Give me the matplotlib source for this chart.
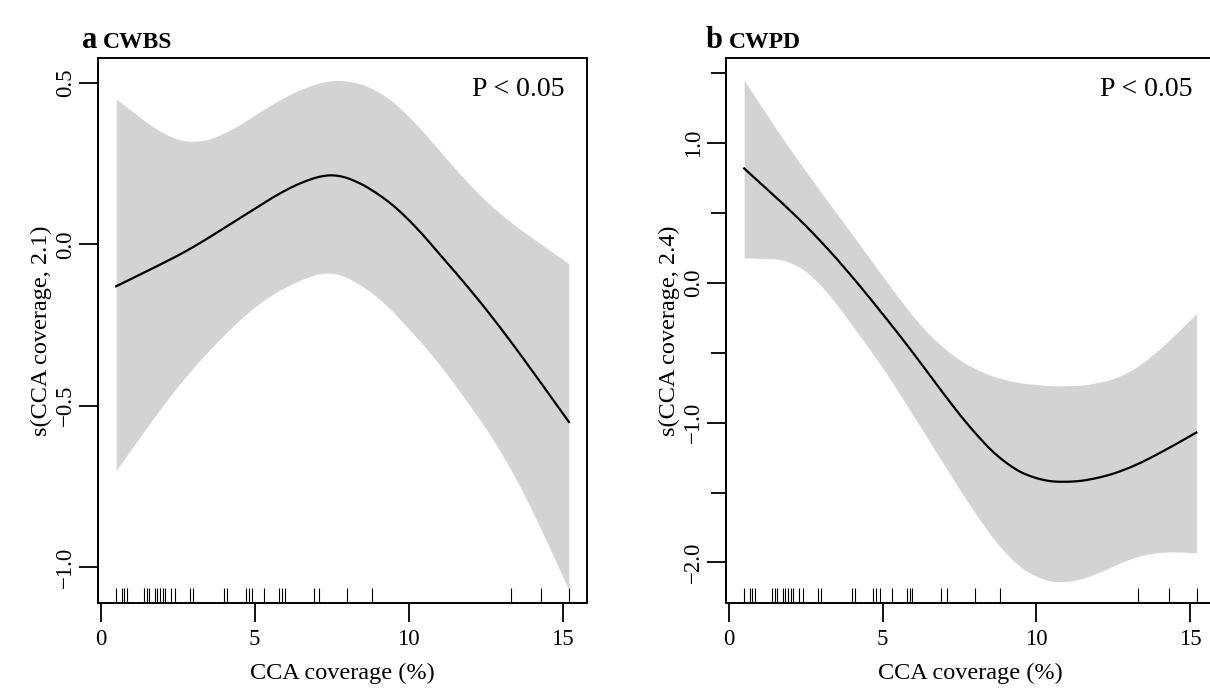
import matplotlib
matplotlib.use("Agg")
import matplotlib.pyplot as plt
import numpy as np
from matplotlib.ticker import MultipleLocator

plt.rcParams["font.family"] = ["Liberation Serif", "DejaVu Serif"]

# rug positions (CCA coverage of the sampled sites)
rug_x = [0.50, 0.68, 0.77, 0.85, 1.42, 1.50, 1.57, 1.77, 1.84, 1.92, 2.01,
         2.09, 2.28, 2.40, 2.91, 3.01, 4.01, 4.11, 4.70, 4.80, 4.92, 5.31,
         5.80, 5.89, 5.97, 6.91, 7.10, 8.01, 8.82, 13.31, 14.31, 15.21]

# smooth terms
x_a = [0.5, 2, 3, 4, 5, 6, 7, 7.5, 8, 9, 10, 11, 12, 13, 14, 15.2]
fit_a = [-0.13, -0.06, -0.01, 0.05, 0.11, 0.17, 0.21, 0.22, 0.21, 0.16, 0.08,
         -0.03, -0.14, -0.26, -0.39, -0.55]
upper_a = [0.45, 0.34, 0.31, 0.34, 0.40, 0.46, 0.50, 0.51, 0.51, 0.48, 0.40,
           0.29, 0.18, 0.09, 0.02, -0.06]
lower_a = [-0.70, -0.50, -0.38, -0.28, -0.19, -0.13, -0.09, -0.08, -0.10,
           -0.16, -0.26, -0.37, -0.50, -0.64, -0.82, -1.07]

x_b = [0.5, 2, 3, 4, 5, 6, 7, 8, 9, 10, 11, 12, 13, 14, 15.2]
fit_b = [0.82, 0.52, 0.30, 0.05, -0.22, -0.50, -0.80, -1.08, -1.30, -1.41,
         -1.43, -1.40, -1.33, -1.22, -1.07]
upper_b = [1.45, 0.95, 0.65, 0.35, 0.05, -0.25, -0.48, -0.62, -0.70, -0.73,
           -0.74, -0.72, -0.65, -0.48, -0.22]
lower_b = [0.18, 0.17, 0.00, -0.30, -0.60, -0.95, -1.30, -1.65, -1.95, -2.12,
           -2.15, -2.08, -1.97, -1.92, -1.93]

W, H = 1210, 695
fig = plt.figure(figsize=(W / 100, H / 100), dpi=100)


def smooth(x, y):
    # interpolate the read points, then soften the corners a little
    xs = np.linspace(x[0], x[-1], 300)
    ys = np.interp(xs, x, y)
    k = np.ones(25) / 25
    pad = np.pad(ys, 12, mode="reflect", reflect_type="odd")
    return xs, np.convolve(pad, k, mode="valid")


def panel(rect, x, fit, upper, lower, ylim, ylabel, minor):
    ax = fig.add_axes(rect)
    xs, lo = smooth(x, lower)
    _, hi = smooth(x, upper)
    _, fs = smooth(x, fit)
    ax.fill_between(xs, lo, hi, color="#d3d3d3", linewidth=0)
    ax.plot(xs, fs, color="black", lw=1.6)
    ax.vlines(rug_x, ylim[0], ylim[0] + (ylim[1] - ylim[0]) * 0.027,
              color="black", lw=0.8)
    ax.set_xlim(-0.09, 15.79)
    ax.set_ylim(*ylim)
    ax.set_xticks([0, 5, 10, 15])
    if minor:
        ax.yaxis.set_major_locator(MultipleLocator(1.0))
        ax.yaxis.set_minor_locator(MultipleLocator(0.5))
        ax.tick_params(axis="y", which="minor", length=11, width=1.3)
    else:
        ax.set_yticks([-1.0, -0.5, 0.0, 0.5])
    ax.yaxis.set_major_formatter(plt.FuncFormatter(lambda v, p: f"{v:.1f}".replace("-", "\u2212")))
    ax.tick_params(which="major", length=14, width=1.3, labelsize=16.5,
                   direction="out", pad=5)
    ax.tick_params(axis="y", pad=2)
    for lab in ax.get_yticklabels():
        lab.set_rotation(90)
        lab.set_va("center")
    for s in ax.spines.values():
        s.set_linewidth(1.4)
    ax.set_xlabel("CCA coverage (%)", fontsize=17.5, labelpad=9)
    ax.set_ylabel(ylabel, fontsize=17.5, labelpad=2)
    ax.text(0.955, 0.93, "P < 0.05", transform=ax.transAxes, ha="right",
            va="baseline", fontsize=20)
    return ax


ax_a = panel([98 / W, 92 / H, 489 / W, 545 / H], x_a, fit_a, upper_a, lower_a,
             (-1.111, 0.577), "s(CCA coverage, 2.1)", False)
ax_b = panel([726 / W, 92 / H, 488.5 / W, 545 / H], x_b, fit_b, upper_b, lower_b,
             (-2.29, 1.61), "s(CCA coverage, 2.4)", True)

fig.text(82 / W, 1 - 48 / H, "a", fontsize=22, fontweight="bold", va="baseline")
fig.text(103 / W, 1 - 48 / H, "CWBS", fontsize=17, fontweight="bold", va="baseline")
fig.text(706 / W, 1 - 48 / H, "b", fontsize=22, fontweight="bold", va="baseline")
fig.text(729 / W, 1 - 48 / H, "CWPD", fontsize=17, fontweight="bold", va="baseline")

fig.savefig("out.png", dpi=100)
